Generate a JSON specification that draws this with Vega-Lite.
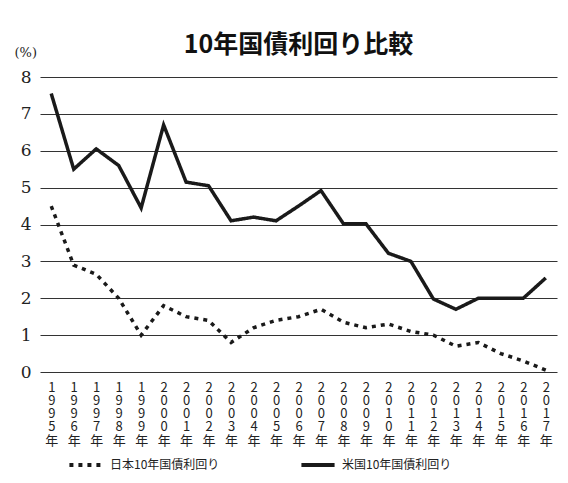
{
  "$schema": "https://vega.github.io/schema/vega-lite/v6.json",
  "autosize": {"type": "none"},
  "width": 517,
  "height": 295,
  "padding": {"left": 40, "top": 77, "right": 11, "bottom": 111},
  "background": "white",
  "title": {
    "text": "10年国債利回り比較",
    "font": "Noto Sans CJK JP",
    "fontSize": 25,
    "fontWeight": "bold",
    "color": "#111",
    "anchor": "middle",
    "frame": "group",
    "offset": -12
  },
  "config": {
    "view": {"stroke": null}
  },
  "data": {
    "values": [
      {"year": "1995年", "series": "日本10年国債利回り", "value": 4.5},
      {"year": "1996年", "series": "日本10年国債利回り", "value": 2.9},
      {"year": "1997年", "series": "日本10年国債利回り", "value": 2.65},
      {"year": "1998年", "series": "日本10年国債利回り", "value": 2.0},
      {"year": "1999年", "series": "日本10年国債利回り", "value": 1.0},
      {"year": "2000年", "series": "日本10年国債利回り", "value": 1.8},
      {"year": "2001年", "series": "日本10年国債利回り", "value": 1.5},
      {"year": "2002年", "series": "日本10年国債利回り", "value": 1.4},
      {"year": "2003年", "series": "日本10年国債利回り", "value": 0.8},
      {"year": "2004年", "series": "日本10年国債利回り", "value": 1.2},
      {"year": "2005年", "series": "日本10年国債利回り", "value": 1.4},
      {"year": "2006年", "series": "日本10年国債利回り", "value": 1.5},
      {"year": "2007年", "series": "日本10年国債利回り", "value": 1.7},
      {"year": "2008年", "series": "日本10年国債利回り", "value": 1.35},
      {"year": "2009年", "series": "日本10年国債利回り", "value": 1.2},
      {"year": "2010年", "series": "日本10年国債利回り", "value": 1.3},
      {"year": "2011年", "series": "日本10年国債利回り", "value": 1.1},
      {"year": "2012年", "series": "日本10年国債利回り", "value": 1.0},
      {"year": "2013年", "series": "日本10年国債利回り", "value": 0.7},
      {"year": "2014年", "series": "日本10年国債利回り", "value": 0.8},
      {"year": "2015年", "series": "日本10年国債利回り", "value": 0.5},
      {"year": "2016年", "series": "日本10年国債利回り", "value": 0.3},
      {"year": "2017年", "series": "日本10年国債利回り", "value": 0.05},
      {"year": "1995年", "series": "米国10年国債利回り", "value": 7.55},
      {"year": "1996年", "series": "米国10年国債利回り", "value": 5.5},
      {"year": "1997年", "series": "米国10年国債利回り", "value": 6.05},
      {"year": "1998年", "series": "米国10年国債利回り", "value": 5.6},
      {"year": "1999年", "series": "米国10年国債利回り", "value": 4.45},
      {"year": "2000年", "series": "米国10年国債利回り", "value": 6.7},
      {"year": "2001年", "series": "米国10年国債利回り", "value": 5.15},
      {"year": "2002年", "series": "米国10年国債利回り", "value": 5.05},
      {"year": "2003年", "series": "米国10年国債利回り", "value": 4.1},
      {"year": "2004年", "series": "米国10年国債利回り", "value": 4.2},
      {"year": "2005年", "series": "米国10年国債利回り", "value": 4.1},
      {"year": "2006年", "series": "米国10年国債利回り", "value": 4.5},
      {"year": "2007年", "series": "米国10年国債利回り", "value": 4.92},
      {"year": "2008年", "series": "米国10年国債利回り", "value": 4.02},
      {"year": "2009年", "series": "米国10年国債利回り", "value": 4.02},
      {"year": "2010年", "series": "米国10年国債利回り", "value": 3.22},
      {"year": "2011年", "series": "米国10年国債利回り", "value": 3.0},
      {"year": "2012年", "series": "米国10年国債利回り", "value": 1.98},
      {"year": "2013年", "series": "米国10年国債利回り", "value": 1.7},
      {"year": "2014年", "series": "米国10年国債利回り", "value": 2.0},
      {"year": "2015年", "series": "米国10年国債利回り", "value": 2.0},
      {"year": "2016年", "series": "米国10年国債利回り", "value": 2.0},
      {"year": "2017年", "series": "米国10年国債利回り", "value": 2.55}
    ]
  },
  "mark": {"type": "line", "color": "#1a1a1a", "strokeWidth": 3.5},
  "encoding": {
    "x": {
      "field": "year",
      "type": "ordinal",
      "scale": {"type": "point", "padding": 0.5},
      "axis": {
        "title": null,
        "labelAngle": 0,
        "labelExpr": "split(datum.label, '')",
        "labelFont": "Noto Sans CJK JP",
        "labelFontSize": 13,
        "labelLineHeight": 13.3,
        "labelColor": "#222",
        "labelBaseline": "top",
        "labelPadding": 9,
        "domain": false,
        "ticks": false,
        "grid": false
      }
    },
    "y": {
      "field": "value",
      "type": "quantitative",
      "scale": {"domain": [0, 8]},
      "axis": {
        "values": [0, 1, 2, 3, 4, 5, 6, 7, 8],
        "title": "(%)",
        "titleAngle": 0,
        "titleFont": "DejaVu Serif",
        "titleFontWeight": "normal",
        "titleFontSize": 13,
        "titleColor": "#222",
        "titleAlign": "left",
        "titleBaseline": "middle",
        "titleX": -26,
        "titleY": -25,
        "labelFont": "DejaVu Serif",
        "labelFontSize": 17,
        "labelColor": "#222",
        "labelPadding": 9,
        "domain": false,
        "ticks": false,
        "grid": true,
        "gridColor": "#333",
        "gridWidth": 1.2
      }
    },
    "strokeDash": {
      "field": "series",
      "type": "nominal",
      "scale": {
        "domain": ["日本10年国債利回り", "米国10年国債利回り"],
        "range": [[4, 5], [1, 0]]
      },
      "legend": {
        "title": null,
        "orient": "none",
        "direction": "horizontal",
        "legendX": 27,
        "legendY": 369,
        "labelFont": "Noto Sans CJK JP",
        "labelFontSize": 12,
        "labelColor": "#222",
        "symbolType": "stroke",
        "symbolStrokeColor": "#1a1a1a",
        "symbolStrokeWidth": 4,
        "symbolSize": 1100,
        "labelOffset": 5,
        "columnPadding": 73
      }
    }
  }
}
